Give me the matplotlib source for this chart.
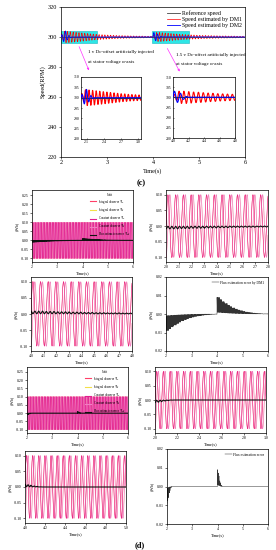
import numpy as np
import matplotlib
matplotlib.use("Agg")
import matplotlib.pyplot as plt
from matplotlib.patches import Rectangle
from matplotlib.lines import Line2D

plt.rcParams['font.family'] = ['Liberation Serif', 'DejaVu Serif']
plt.rcParams['mathtext.fontset'] = 'stix'

W, H = 276, 550

# ---- (c) speed data ----
ref_speed = 300
f_dm1 = 16.0
# DM1 cycle amplitudes (RPM) after each offset injection
dm1_amp_a = [2.0, 3.8, 3.7, 3.5, 3.3, 3.1, 2.9, 2.7, 2.5, 2.3, 2.1, 1.9, 1.8, 1.6,
             1.5, 1.4, 1.3, 1.2, 1.1, 1.0, 0.9, 0.9, 0.8, 0.8, 0.7, 0.7, 0.6, 0.6,
             0.6, 0.5, 0.5, 0.5]
dm1_amp_b = [1.5, 3.0, 3.0, 2.8, 2.6, 2.5, 2.3, 2.1, 2.0, 1.8, 1.7, 1.6, 1.5, 1.4,
             1.3, 1.2, 1.1, 1.0, 1.0, 0.9, 0.9, 0.8, 0.8, 0.7, 0.7, 0.7, 0.6, 0.6,
             0.6, 0.5, 0.5, 0.5]
f_dm2 = 13.0
# DM2 half-cycle peaks (RPM)
dm2_half_a = [1.5, -3.0, 4.0, -2.0, 1.0, -0.4]
dm2_half_b = [3.0, -2.5, 2.0, -1.0, 0.4]
inject_t = [2.0, 4.0]

# ---- (d) flux data ----
psi_amp = 0.1
f_e = 16.5
f_err = 33.0
dm1_err_a = [-0.0090, -0.0080, -0.0070, -0.0060, -0.0052, -0.0044, -0.0037, -0.0031,
             -0.0026, -0.0021, -0.0017, -0.0014, -0.0011, -0.0009, -0.0007, -0.0005,
             -0.0004, -0.0003, -0.0002, -0.0001]
dm1_err_b = [0.0090, 0.0078, 0.0067, 0.0057, 0.0048, 0.0040, 0.0033, 0.0027,
             0.0022, 0.0018, 0.0014, 0.0011, 0.0009, 0.0007, 0.0005, 0.0004,
             0.0003, 0.0002, 0.0001, 0.0001]
dm1_err_step = 0.1
dm2_err_a = [-0.0090, -0.0075, -0.0060, -0.0045, -0.0032, -0.0022, -0.0014, -0.0008,
             -0.0004, -0.0002]
dm2_err_b = [0.0090, 0.0072, 0.0056, 0.0042, 0.0030, 0.0020, 0.0012, 0.0007,
             0.0003, 0.0001]
dm2_err_step = 0.02

flux_labels = [r'Integral observer $\Psi_\alpha$', r'Integral observer $\Psi_\beta$',
               r'Constant observer $\Psi_\alpha$', r'Constant observer $\Psi_\beta$',
               r'Flux estimation error $\Psi_{\alpha\beta}$']
flux_colors = ['#ff4068', '#f3e04a', '#e0208f', '#f27cc4', '#111111']


def halves(t0, f, peaks, n=30):
    ts, ys = [], []
    for i, p in enumerate(peaks):
        tau = np.linspace(0, 1, n, endpoint=False)
        ts.append(t0 + (i + tau) / (2 * f))
        ys.append(p * np.sin(np.pi * tau))
    return np.concatenate(ts), np.concatenate(ys)


def speed_curve(segs, t_end=6.0):
    t_all, y_all = [np.array([2.0])], [np.array([0.0])]
    for t0, f, peaks in segs:
        t, y = halves(t0, f, peaks)
        t_all.append(t)
        y_all.append(y)
    t_all.append(np.array([t_end]))
    y_all.append(np.array([0.0]))
    t = np.concatenate(t_all)
    y = np.concatenate(y_all)
    order = np.argsort(t, kind='stable')
    return t[order], ref_speed + y[order]


def err_curve(t, segs, step):
    e = np.zeros_like(t)
    for t0, vals in segs:
        for i, v in enumerate(vals):
            m = (t >= t0 + i * step) & (t < t0 + (i + 1) * step)
            e[m] = v * (0.55 + 0.45 * np.cos(2 * np.pi * f_err * (t[m] - t0)))
    return e


def cyc(amps):
    return list(np.ravel([[a, -a] for a in amps]))


t1, s1 = speed_curve([(inject_t[0], f_dm1, cyc(dm1_amp_a)), (inject_t[1], f_dm1, cyc(dm1_amp_b))])
t2, s2 = speed_curve([(inject_t[0], f_dm2, dm2_half_a), (inject_t[1], f_dm2, dm2_half_b)])

tt = np.linspace(2, 6, 24001)
err1 = err_curve(tt, [(inject_t[0], dm1_err_a), (inject_t[1], dm1_err_b)], dm1_err_step)
err2 = err_curve(tt, [(inject_t[0], dm2_err_a), (inject_t[1], dm2_err_b)], dm2_err_step)
psi_a = psi_amp * np.sin(2 * np.pi * f_e * tt)
psi_b = psi_amp * np.sin(2 * np.pi * f_e * tt - np.pi / 2)

fig = plt.figure(figsize=(W / 100, H / 100), dpi=100)


def px_axes(x0, y0, x1, y1):
    return fig.add_axes([x0 / W, 1 - y1 / H, (x1 - x0) / W, (y1 - y0) / H])


def style(ax, fs):
    ax.tick_params(labelsize=fs, length=1.5, width=0.4, pad=1)
    for s in ax.spines.values():
        s.set_linewidth(0.5)


# ---------- (c) main speed plot ----------
ax = px_axes(61, 7, 245, 157)
for x0, x1 in [(2.0, 2.78), (3.98, 4.78)]:
    ax.add_patch(Rectangle((x0, 296), x1 - x0, 8, facecolor='#2ee6e6', edgecolor='#1bb5c0',
                           linewidth=0.4, zorder=1))
ax.plot([2, 6], [ref_speed, ref_speed], color='#444444', lw=0.6, label='Reference speed', zorder=3)
ax.plot(t1, s1, color='red', lw=0.5, label='Speed estimated by DM1', zorder=2)
ax.plot(t2, s2, color='blue', lw=0.6, label='Speed estimated by DM2', zorder=4)
ax.set_xlim(2, 6)
ax.set_ylim(220, 320)
ax.set_xticks([2, 3, 4, 5, 6])
ax.set_yticks([220, 240, 260, 280, 300, 320])
style(ax, 4.5)
ax.set_xlabel('Time(s)', fontsize=4.5, labelpad=2)
ax.set_ylabel('Speed(RPM)', fontsize=4.5, labelpad=2)
ax.legend(loc='upper right', frameon=False, fontsize=4.2, handlelength=2.2,
          handletextpad=0.3, labelspacing=0.15, borderaxespad=0.2)

fig.text(88 / W, 1 - 52 / H, '1 v Dc-offset artificially injected', fontsize=3.6, va='center')
fig.text(88 / W, 1 - 62 / H, 'at stator voltage α-axis', fontsize=3.6, va='center')
fig.text(176 / W, 1 - 55 / H, '1.5 v Dc-offset artificially injected', fontsize=3.6, va='center')
fig.text(176 / W, 1 - 64 / H, 'at stator voltage α-axis', fontsize=3.6, va='center')
for (xa, ya), (xb, yb) in [((78, 44), (90, 73)), ((166, 46), (181, 74))]:
    fig.patches.append(matplotlib.patches.FancyArrowPatch(
        (xa / W, 1 - ya / H), (xb / W, 1 - yb / H), transform=fig.transFigure,
        arrowstyle='-|>', mutation_scale=3, color='#ff33ff', lw=0.5))

fig.text(141 / W, 1 - 183 / H, '(c)', fontsize=6, fontweight='bold', ha='center', va='center')

# insets
for box, xl, xt in [((81, 77, 141, 139), (2.0, 3.05), [2.1, 2.4, 2.7, 3.0]),
                    ((173, 77, 235, 138), (4.0, 4.8), [4.0, 4.2, 4.4, 4.6, 4.8])]:
    ia = px_axes(*box)
    ia.plot([2, 6], [ref_speed, ref_speed], color='#333333', lw=0.8, zorder=3)
    ia.plot(t1, s1, color='red', lw=0.8, zorder=2)
    ia.plot(t2, s2, color='blue', lw=0.8, zorder=4)
    ia.set_xlim(*xl)
    ia.set_ylim(280, 310)
    ia.set_xticks(xt)
    ia.set_yticks([280, 285, 290, 295, 300, 305, 310])
    style(ia, 2.8)
    ia.tick_params(direction='in', length=1)


# ---------- (d) flux plots ----------
def flux_panel(box, err, xl, xt, legend=False):
    a = px_axes(*box)
    a.plot(tt, psi_a + err, color=flux_colors[0], lw=0.4)
    a.plot(tt, psi_b, color=flux_colors[1], lw=0.15)
    a.plot(tt, psi_b, color=flux_colors[3], lw=0.5)
    a.plot(tt, psi_a, color=flux_colors[2], lw=0.3)
    a.plot(tt, err, color=flux_colors[4], lw=0.8)
    a.set_xlim(*xl)
    a.set_xticks(xt)
    if legend:
        a.set_ylim(-0.12, 0.28)
        a.set_yticks([-0.10, -0.05, 0.00, 0.05, 0.10, 0.15, 0.20, 0.25])
        handles = [Line2D([], [], color=c, lw=0.8) for c in flux_colors]
        a.legend(handles, flux_labels, loc='upper right',
                 title='Unit', fontsize=2.2, title_fontsize=2.4,
                 frameon=False, handlelength=2.0, handletextpad=0.4, labelspacing=0.25,
                 borderaxespad=0.5)
    else:
        a.set_ylim(-0.115, 0.115)
        a.set_yticks([-0.10, -0.05, 0.00, 0.05, 0.10])
        a.set_xticklabels(['%.1f' % v for v in xt])
    a.yaxis.set_major_formatter(matplotlib.ticker.FormatStrFormatter('%.2f'))
    style(a, 2.8)
    a.set_xlabel('Time(s)', fontsize=3.2, labelpad=1)
    a.set_ylabel('(Wb)', fontsize=3.2, labelpad=1)
    return a


def err_panel(box, err, label):
    a = px_axes(*box)
    a.plot(tt, err, color='#333333', lw=0.35, label=label)
    a.set_xlim(2, 6)
    a.set_ylim(-0.02, 0.02)
    a.set_xticks([2, 3, 4, 5, 6])
    a.set_yticks([-0.02, -0.01, 0.00, 0.01, 0.02])
    a.yaxis.set_major_formatter(matplotlib.ticker.FormatStrFormatter('%.2f'))
    style(a, 2.8)
    a.legend(loc='upper right', fontsize=2.6, frameon=False, handlelength=2.0,
             handletextpad=0.4, borderaxespad=0.6)
    a.set_xlabel('Time(s)', fontsize=3.2, labelpad=1)
    a.set_ylabel('(Wb)', fontsize=3.2, labelpad=1)
    return a


flux_panel((32, 190, 133, 262), err1, (2, 6), [2, 3, 4, 5, 6], legend=True)
flux_panel((166, 190, 268, 262), err1, (2.0, 2.8), [2.0, 2.1, 2.2, 2.3, 2.4, 2.5, 2.6, 2.7, 2.8])
flux_panel((31, 277, 132, 351), err1, (4.0, 4.8), [4.0, 4.1, 4.2, 4.3, 4.4, 4.5, 4.6, 4.7, 4.8])
err_panel((166, 277, 268, 351), err1, 'Flux estimation error by DM1')
flux_panel((27, 367, 128, 433), err2, (2, 6), [2, 3, 4, 5, 6], legend=True)
flux_panel((155, 367, 266, 433), err2, (2.0, 3.0), [2.0, 2.2, 2.4, 2.6, 2.8, 3.0])
flux_panel((25, 451, 126, 523), err2, (4.0, 5.0), [4.0, 4.2, 4.4, 4.6, 4.8, 5.0])
err_panel((167, 449, 268, 524), err2, 'Flux estimation error')

fig.text(140 / W, 1 - 545 / H, '(d)', fontsize=6, fontweight='bold', ha='center', va='center')

fig.savefig('out.png', dpi=100)
